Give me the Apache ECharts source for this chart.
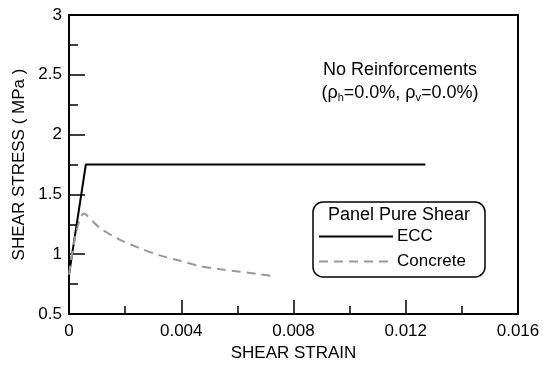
<!DOCTYPE html>
<html>
<head>
<meta charset="utf-8">
<script src="https://cdn.jsdelivr.net/npm/echarts@6/dist/echarts.min.js"></script>
<style>
  html, body { margin: 0; padding: 0; background: #fff; }
  #chart { width: 543px; height: 369px; }
</style>
</head>
<body>
<div id="chart"></div>
<script>
// values
const eccStrain = [0, 0.0006, 0.0127];
const eccStress = [0.83, 1.75, 1.75];

const concreteStrain = [0, 0.00053, 0.0011, 0.00182, 0.00253, 0.00324, 0.00396, 0.00467, 0.00538, 0.00681, 0.00738];
const concreteStress = [0.83, 1.34, 1.22, 1.12, 1.05, 0.99, 0.945, 0.90, 0.875, 0.832, 0.812];

const xTicks = [0, 0.004, 0.008, 0.012, 0.016];
const yTicks = [0.5, 1, 1.5, 2, 2.5, 3];

const font = 'Liberation Sans, Arial, sans-serif';

function pairs(xs, ys) {
  return xs.map((x, i) => [x, ys[i]]);
}

let chart = echarts.init(document.getElementById('chart'));
chart.setOption({
  animation: false,
  grid: {
    left: 69, right: 25, top: 15, bottom: 55,
    show: true, borderColor: '#000', borderWidth: 2
  },
  xAxis: {
    type: 'value',
    min: xTicks[0], max: xTicks[xTicks.length - 1], interval: 0.004,
    name: 'SHEAR STRAIN',
    nameLocation: 'middle', nameGap: 30,
    nameTextStyle: {color: '#000', fontFamily: font, fontSize: 17},
    axisLine: {lineStyle: {color: '#000', width: 2}},
    axisTick: {inside: true, length: 14, lineStyle: {color: '#000', width: 1.5}},
    minorTick: {show: true, splitNumber: 2, length: 8, lineStyle: {color: '#000', width: 1.5}},
    splitLine: {show: false},
    axisLabel: {
      color: '#000', fontFamily: font, fontSize: 17, margin: 9,
      formatter: v => String(+v.toFixed(3))
    }
  },
  yAxis: {
    type: 'value',
    min: yTicks[0], max: yTicks[yTicks.length - 1], interval: 0.5,
    name: 'SHEAR STRESS ( MPa )',
    nameLocation: 'middle', nameGap: 39,
    nameTextStyle: {color: '#000', fontFamily: font, fontSize: 17},
    axisLine: {lineStyle: {color: '#000', width: 2}},
    axisTick: {inside: true, length: 16, lineStyle: {color: '#000', width: 1.5}},
    minorTick: {show: true, splitNumber: 2, length: 9, lineStyle: {color: '#000', width: 1.5}},
    splitLine: {show: false},
    axisLabel: {color: '#000', fontFamily: font, fontSize: 17, margin: 7}
  },
  legend: {
    orient: 'vertical',
    left: 318, top: 228, padding: 0,
    itemWidth: 74, itemHeight: 12, itemGap: 8,
    itemStyle: {opacity: 0},
    textStyle: {color: '#000', fontFamily: font, fontSize: 17, padding: [0, 0, 0, -1]},
    data: ['ECC', 'Concrete']
  },
  graphic: [
    {
      type: 'rect',
      shape: {x: 313, y: 202, width: 172, height: 75, r: 10},
      style: {fill: 'none', stroke: '#000', lineWidth: 1.5},
      z: 10
    },
    {
      type: 'text',
      x: 399, y: 215,
      style: {
        text: 'Panel Pure Shear', fill: '#000', font: '18px ' + font,
        align: 'center', verticalAlign: 'middle'
      },
      z: 10
    },
    {
      type: 'text',
      x: 400, y: 70,
      style: {
        text: 'No Reinforcements', fill: '#000', font: '18px ' + font,
        align: 'center', verticalAlign: 'middle'
      }
    },
    {
      type: 'text',
      x: 400, y: 93,
      style: {
        text: '(ρ{sub|h}=0.0%, ρ{sub|v}=0.0%)',
        fill: '#000', font: '18px ' + font,
        align: 'center', verticalAlign: 'middle',
        rich: {
          sub: {fontSize: 11, fontFamily: font, fill: '#000', padding: [9, 0, 0, 0]}
        }
      }
    }
  ],
  series: [
    {
      name: 'ECC',
      type: 'line',
      data: pairs(eccStrain, eccStress),
      symbol: 'none',
      lineStyle: {color: '#000', width: 2},
      itemStyle: {color: '#000'}
    },
    {
      name: 'Concrete',
      type: 'line',
      data: pairs(concreteStrain, concreteStress),
      symbol: 'none',
      smooth: 0.3,
      lineStyle: {color: '#999', width: 2, type: [9, 6]},
      itemStyle: {color: '#999'}
    }
  ]
});
</script>
</body>
</html>
